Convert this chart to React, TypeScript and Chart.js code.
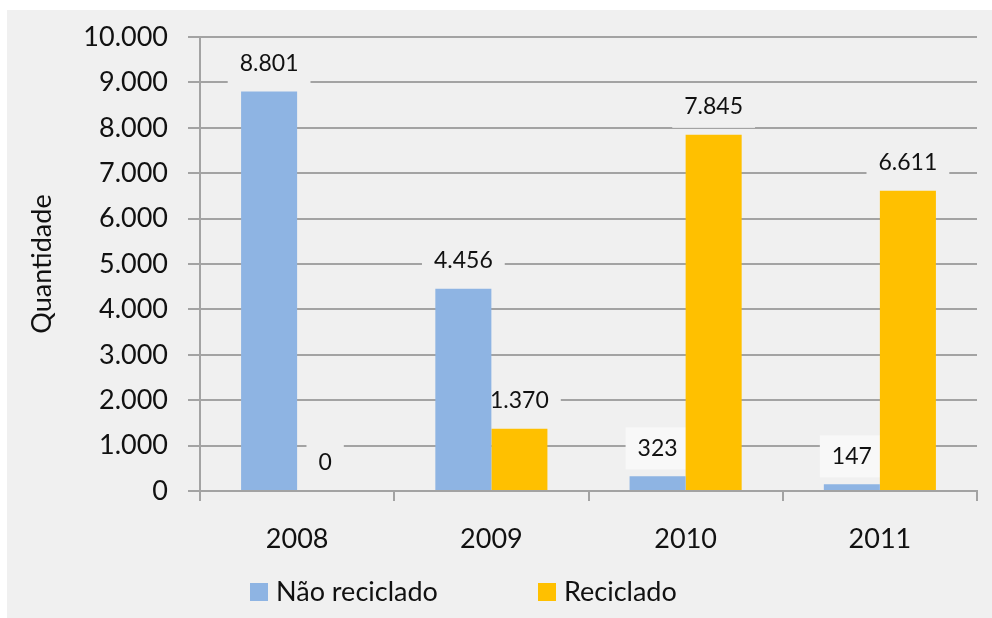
import React, { useEffect, useRef } from "react";
import { Chart, registerables } from "chart.js";

Chart.register(...registerables);

const categories = ["2008", "2009", "2010", "2011"];
const naoReciclado = [8801, 4456, 323, 147];
const reciclado = [0, 1370, 7845, 6611];
const seriesNames = ["Não reciclado", "Reciclado"];
const axisTitle = "Quantidade";

const FONT = "Lato, 'Open Sans', sans-serif";
const BG = "#f0f0f0";
const GRID = "#a3a3a3";

const fmt = (v: number) =>
  String(Math.round(v)).replace(/\B(?=(\d{3})+(?!\d))/g, ".");

const valueLabels = {
  id: "valueLabels",
  beforeDatasetsDraw(chart: any) {
    const ctx = chart.ctx;
    ctx.save();
    ctx.font = `23px ${FONT}`;
    chart.data.datasets.forEach((ds: any, i: number) => {
      const meta = chart.getDatasetMeta(i);
      meta.data.forEach((bar: any, j: number) => {
        const v = ds.data[j];
        const t = fmt(v);
        const w = ctx.measureText(t).width + 24;
        const h = 42;
        const cy = bar.y - 28;
        ctx.fillStyle = v > 0 && v < 1000 ? "#f8f8f8" : BG;
        ctx.fillRect(bar.x - w / 2, cy - h / 2, w, h);
      });
    });
    ctx.restore();
  },
  afterDatasetsDraw(chart: any) {
    const ctx = chart.ctx;
    ctx.save();
    ctx.font = `23px ${FONT}`;
    ctx.fillStyle = "#111";
    ctx.textAlign = "center";
    ctx.textBaseline = "middle";
    chart.data.datasets.forEach((ds: any, i: number) => {
      const meta = chart.getDatasetMeta(i);
      meta.data.forEach((bar: any, j: number) => {
        ctx.fillText(fmt(ds.data[j]), bar.x, bar.y - 28);
      });
    });
    ctx.restore();
  },
};

const customLegend = {
  id: "customLegend",
  afterDraw(chart: any) {
    const ctx = chart.ctx;
    ctx.save();
    ctx.font = `27px ${FONT}`;
    ctx.textBaseline = "middle";
    const starts = [243, 531];
    chart.data.datasets.forEach((ds: any, i: number) => {
      const x = starts[i];
      const cy = 582;
      ctx.fillStyle = ds.backgroundColor;
      ctx.fillRect(x, cy - 9, 18, 18);
      ctx.fillStyle = "#111";
      ctx.textAlign = "left";
      ctx.fillText(ds.label, x + 26, cy);
    });
    ctx.restore();
  },
};

export default function App() {
  const ref = useRef<HTMLCanvasElement>(null);
  useEffect(() => {
    if (!ref.current) return;
    const chart = new Chart(ref.current, {
      type: "bar",
      data: {
        labels: categories,
        datasets: [
          {
            label: seriesNames[0],
            data: naoReciclado,
            backgroundColor: "#8eb4e3",
            categoryPercentage: 0.577,
            barPercentage: 1,
          },
          {
            label: seriesNames[1],
            data: reciclado,
            backgroundColor: "#ffc000",
            categoryPercentage: 0.577,
            barPercentage: 1,
          },
        ],
      },
      options: {
        responsive: false,
        animation: false,
        layout: { padding: { top: 27, right: 15, left: 0, bottom: 0 } },
        plugins: {
          legend: { display: false },
          tooltip: { enabled: false },
        },
        scales: {
          x: {
            grid: {
              drawOnChartArea: false,
              drawTicks: true,
              tickLength: 10,
              color: GRID,
              lineWidth: 2,
              offset: true,
            },
            border: { display: true, color: GRID, width: 2 },
            ticks: {
              color: "#111",
              font: { family: FONT, size: 27 },
              padding: 22,
            },
            afterFit: (s: any) => {
              s.height = 127;
            },
          },
          y: {
            min: 0,
            max: 10000,
            ticks: {
              stepSize: 1000,
              color: "#111",
              font: { family: FONT, size: 27 },
              padding: 20,
              callback: (v: any) => fmt(Number(v)),
            },
            grid: {
              color: GRID,
              lineWidth: 2,
              tickLength: 12,
            },
            border: { display: true, color: GRID, width: 2 },
            title: {
              display: true,
              text: axisTitle,
              color: "#111",
              font: { family: FONT, size: 27 },
              padding: { top: 19, bottom: 0 },
            },
            afterFit: (s: any) => {
              s.width = 193;
              s.paddingTop = 0;
              s.paddingBottom = 0;
            },
          },
        },
      },
      plugins: [valueLabels, customLegend],
    });
    return () => chart.destroy();
  }, []);
  return (
    <div
      style={{
        position: "fixed",
        left: 7,
        top: 10,
        width: 985,
        height: 608,
        background: BG,
      }}
    >
      <canvas ref={ref} width={985} height={608} style={{ display: "block" }} />
    </div>
  );
}
